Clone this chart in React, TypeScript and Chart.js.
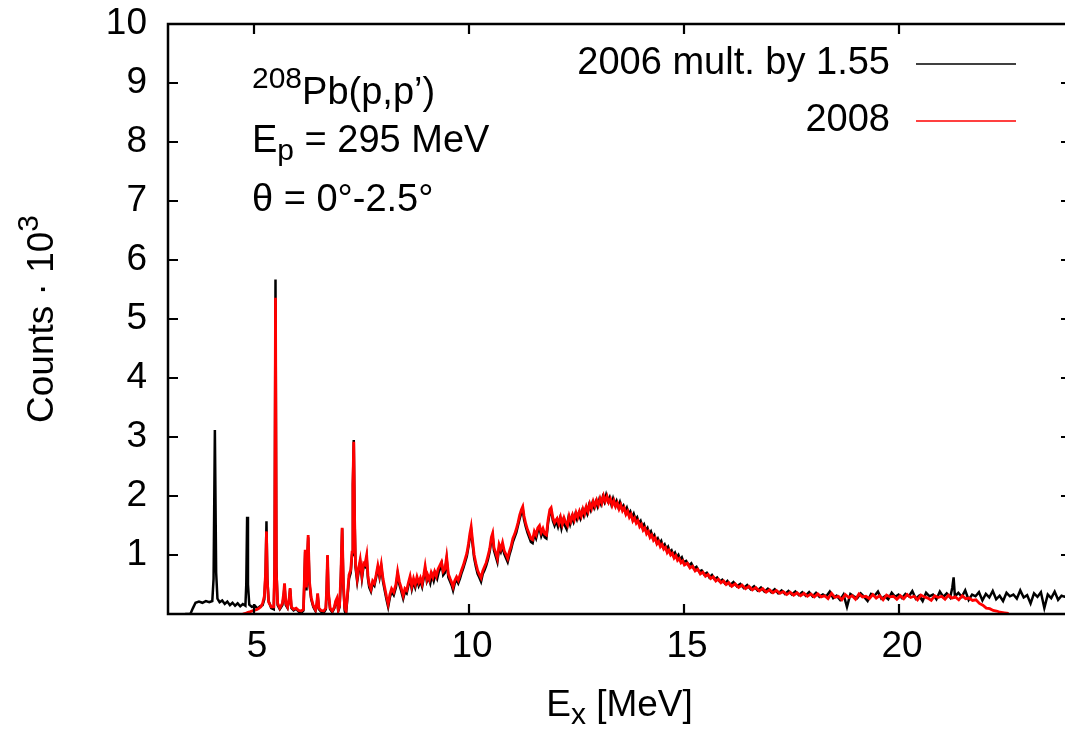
import React, { useEffect, useRef } from "react";
import { Chart, registerables } from "chart.js";

Chart.register(...registerables);

// ---------- data (excitation energy in MeV, counts in units of 10^3) ----------
const ex2006 = [
  3.40, 3.52, 3.58, 3.64, 3.72, 3.80, 3.88, 3.96, 4.03, 4.06, 4.09, 4.12, 4.15, 4.20, 4.26, 4.32,
  4.38, 4.44, 4.50, 4.56, 4.62, 4.68, 4.74, 4.80, 4.82, 4.84, 4.86, 4.89, 4.95, 5.02, 5.08, 5.14, 5.20,
  5.24, 5.27, 5.29, 5.31, 5.34, 5.40, 5.46, 5.48, 5.50, 5.52, 5.55, 5.60, 5.66, 5.69, 5.71, 5.74, 5.78, 5.82, 5.84, 5.87, 5.92, 5.98, 6.04, 6.10, 6.15,
  6.17, 6.19, 6.22, 6.24, 6.26, 6.29, 6.33, 6.38, 6.43, 6.46, 6.48, 6.51, 6.56, 6.62, 6.67, 6.69, 6.71, 6.73, 6.77, 6.82, 6.87, 6.90, 6.93, 6.96, 6.99, 7.02, 7.05, 7.08, 7.11, 7.14,
  7.17, 7.21, 7.25, 7.28, 7.30, 7.32, 7.34, 7.36, 7.40, 7.44, 7.47, 7.51, 7.55, 7.58, 7.62, 7.65, 7.68, 7.72, 7.76, 7.80, 7.84, 7.88, 7.92, 7.96, 8.00,
  8.04, 8.08, 8.12, 8.16, 8.20, 8.25, 8.30, 8.34, 8.38, 8.42, 8.47, 8.51, 8.55, 8.59, 8.63, 8.67, 8.71, 8.75, 8.79, 8.83, 8.87, 8.91, 8.95, 8.98, 9.02,
  9.06, 9.10, 9.14, 9.18, 9.22, 9.26, 9.30, 9.34, 9.37, 9.40, 9.44, 9.48, 9.52, 9.56, 9.60, 9.63, 9.67, 9.71, 9.75, 9.79, 9.83, 9.87, 9.91, 9.95, 9.99,
  10.02, 10.05, 10.08, 10.12, 10.16, 10.20, 10.24, 10.28, 10.32, 10.36, 10.40, 10.44, 10.48, 10.52, 10.55, 10.58, 10.62, 10.66, 10.70, 10.74, 10.78, 10.82, 10.86, 10.90, 10.94, 10.98,
  11.02, 11.06, 11.10, 11.14, 11.18, 11.22, 11.25, 11.28, 11.32, 11.36, 11.40, 11.44, 11.48, 11.52, 11.56, 11.60, 11.64, 11.68, 11.72, 11.76, 11.80, 11.84, 11.88, 11.91, 11.95, 11.99,
  12.03, 12.07, 12.11, 12.15, 12.19, 12.23, 12.27, 12.31, 12.35, 12.39, 12.43, 12.47, 12.51, 12.55, 12.59, 12.63, 12.67, 12.71, 12.75, 12.79, 12.83, 12.87, 12.91, 12.95, 12.99,
  13.03, 13.07, 13.11, 13.15, 13.19, 13.23, 13.27, 13.31, 13.35, 13.39, 13.43, 13.47, 13.51, 13.55, 13.59, 13.63, 13.67, 13.71, 13.75, 13.79, 13.83, 13.87, 13.91, 13.95, 13.99,
  14.03, 14.07, 14.11, 14.15, 14.19, 14.23, 14.27, 14.31, 14.35, 14.39, 14.43, 14.47, 14.51, 14.55, 14.59, 14.63, 14.67, 14.71, 14.75, 14.79, 14.83, 14.87, 14.91, 14.95, 14.99,
  15.05, 15.11, 15.17, 15.23, 15.29, 15.35, 15.41, 15.47, 15.53, 15.59, 15.65, 15.71, 15.77, 15.83, 15.89, 15.95, 16.01,
  16.07, 16.15, 16.23, 16.31, 16.39, 16.47, 16.55, 16.63, 16.71, 16.79, 16.87, 16.95, 17.03, 17.11, 17.19, 17.27, 17.35, 17.43, 17.51, 17.59, 17.67, 17.75, 17.83, 17.91, 17.99,
  18.07, 18.15, 18.23, 18.31, 18.39, 18.47, 18.55, 18.63, 18.71, 18.79, 18.87, 18.95, 19.03, 19.11, 19.19, 19.27, 19.35, 19.43, 19.51, 19.59, 19.67, 19.75, 19.83, 19.91, 19.99,
  20.07, 20.15, 20.23, 20.31, 20.39, 20.47, 20.55, 20.63, 20.71, 20.79, 20.87, 20.95, 21.03, 21.11, 21.19, 21.24, 21.27, 21.30, 21.38, 21.46, 21.54, 21.62, 21.70, 21.78, 21.86, 21.94,
  22.02, 22.10, 22.18, 22.26, 22.34, 22.42, 22.50, 22.58, 22.66, 22.74, 22.82, 22.90, 22.98, 23.06, 23.14, 23.22, 23.30, 23.38, 23.46, 23.54, 23.62, 23.70, 23.78, 23.86, 23.94, 24.00,
];

const counts2006 = [
  0.00, 0.00, 0.10, 0.19, 0.21, 0.19, 0.22, 0.20, 0.22, 0.60, 3.12, 0.70, 0.26, 0.20, 0.23, 0.17,
  0.21, 0.15, 0.19, 0.14, 0.18, 0.13, 0.17, 0.14, 0.50, 1.65, 0.50, 0.16, 0.12, 0.14, 0.09, 0.13, 0.15,
  0.25, 0.70, 1.57, 0.60, 0.22, 0.10, 0.08, 0.80, 5.67, 0.80, 0.15, 0.08, 0.15, 0.30, 0.48, 0.15, 0.10, 0.25, 0.42, 0.10, 0.06, 0.09, 0.04, 0.02, 0.06,
  0.50, 1.05, 0.40, 0.90, 1.30, 0.50, 0.25, 0.12, 0.05, 0.15, 0.33, 0.08, 0.04, 0.02, 0.08, 0.40, 0.98, 0.35, 0.08, 0.03, 0.10, 0.20, 0.24, 0.05, 0.12, 0.60, 1.45, 0.45, 0.05, 0.00,
  0.25, 0.60, 0.70, 1.00, 2.20, 2.95, 1.60, 0.80, 0.55, 0.75, 0.88, 0.60, 0.82, 0.80, 0.95, 0.60, 0.45, 0.38, 0.52, 0.48, 0.62, 0.78, 0.62, 0.80, 0.55,
  0.40, 0.25, 0.12, 0.28, 0.38, 0.32, 0.45, 0.68, 0.50, 0.40, 0.26, 0.38, 0.35, 0.48, 0.60, 0.42, 0.55, 0.45, 0.58, 0.48, 0.56, 0.46, 0.62, 0.76, 0.55,
  0.62, 0.52, 0.66, 0.56, 0.68, 0.60, 0.72, 0.78, 0.84, 0.66, 0.70, 0.93, 0.62, 0.55, 0.48, 0.40, 0.52, 0.58, 0.52, 0.60, 0.70, 0.78, 0.88, 0.98, 1.15,
  1.30, 1.42, 1.20, 0.95, 0.80, 0.68, 0.62, 0.55, 0.68, 0.74, 0.82, 0.92, 1.05, 1.25, 1.32, 1.08, 0.98, 0.88, 1.12, 1.05, 1.15, 1.02, 0.95, 0.88, 1.00, 1.10,
  1.22, 1.30, 1.38, 1.50, 1.62, 1.72, 1.78, 1.60, 1.48, 1.38, 1.30, 1.22, 1.20, 1.35, 1.28, 1.40, 1.45, 1.32, 1.40, 1.30, 1.28, 1.55, 1.72, 1.76, 1.58, 1.50,
  1.58, 1.48, 1.60, 1.45, 1.58, 1.50, 1.44, 1.62, 1.52, 1.64, 1.56, 1.68, 1.60, 1.70, 1.62, 1.74, 1.66, 1.78, 1.70, 1.84, 1.76, 1.88, 1.80, 1.90, 1.82,
  1.94, 1.86, 1.98, 1.90, 2.02, 1.92, 1.98, 1.86, 1.96, 1.86, 1.92, 1.82, 1.90, 1.80, 1.84, 1.74, 1.80, 1.70, 1.74, 1.64, 1.70, 1.60, 1.64, 1.54, 1.58,
  1.48, 1.52, 1.42, 1.46, 1.36, 1.40, 1.30, 1.34, 1.24, 1.28, 1.20, 1.24, 1.14, 1.18, 1.10, 1.14, 1.05, 1.08, 1.00, 1.04, 0.96, 1.00, 0.92, 0.96, 0.88,
  0.90, 0.82, 0.86, 0.77, 0.80, 0.72, 0.74, 0.67, 0.70, 0.62, 0.66, 0.59, 0.62, 0.55, 0.58, 0.52, 0.56,
  0.49, 0.54, 0.47, 0.51, 0.44, 0.49, 0.42, 0.47, 0.40, 0.45, 0.38, 0.43, 0.37, 0.42, 0.35, 0.40, 0.34, 0.39, 0.33, 0.38, 0.32, 0.37, 0.31, 0.37, 0.30,
  0.36, 0.29, 0.33, 0.30, 0.38, 0.27, 0.31, 0.24, 0.33, 0.12, 0.34, 0.30, 0.27, 0.35, 0.29, 0.22, 0.34, 0.31, 0.38, 0.26, 0.30, 0.25, 0.36, 0.29, 0.33,
  0.27, 0.34, 0.30, 0.39, 0.26, 0.31, 0.22, 0.36, 0.30, 0.33, 0.25, 0.38, 0.29, 0.35, 0.28, 0.45, 0.62, 0.30, 0.36, 0.29, 0.40, 0.24, 0.33, 0.30, 0.37, 0.23,
  0.34, 0.28, 0.39, 0.25, 0.31, 0.22, 0.36, 0.30, 0.33, 0.26, 0.40, 0.28, 0.32, 0.18, 0.35, 0.29, 0.37, 0.10, 0.33, 0.27, 0.38, 0.24, 0.31, 0.29, 0.36, 0.27,
];

const ex2008 = [
  4.74, 4.80, 4.86, 4.92, 4.98, 5.04, 5.10, 5.16, 5.20, 5.24, 5.27, 5.29, 5.31, 5.34, 5.40, 5.46, 5.48, 5.50, 5.52, 5.55, 5.60, 5.66, 5.69, 5.71, 5.74, 5.78, 5.82, 5.84, 5.87, 5.92, 5.98, 6.04, 6.10, 6.15,
  6.17, 6.19, 6.22, 6.24, 6.26, 6.29, 6.33, 6.38, 6.43, 6.46, 6.48, 6.51, 6.56, 6.62, 6.67, 6.69, 6.71, 6.73, 6.77, 6.82, 6.87, 6.90, 6.93, 6.96, 6.99, 7.02, 7.05, 7.08, 7.11, 7.14,
  7.17, 7.21, 7.25, 7.28, 7.30, 7.32, 7.34, 7.36, 7.40, 7.44, 7.47, 7.51, 7.55, 7.58, 7.62, 7.65, 7.68, 7.72, 7.76, 7.80, 7.84, 7.88, 7.92, 7.96, 8.00,
  8.04, 8.08, 8.12, 8.16, 8.20, 8.25, 8.30, 8.34, 8.38, 8.42, 8.47, 8.51, 8.55, 8.59, 8.63, 8.67, 8.71, 8.75, 8.79, 8.83, 8.87, 8.91, 8.95, 8.98, 9.02,
  9.04, 9.08, 9.12, 9.16, 9.20, 9.24, 9.28, 9.32, 9.36, 9.40, 9.44, 9.48, 9.52, 9.56, 9.60, 9.63, 9.67, 9.71, 9.75, 9.79, 9.83, 9.87, 9.91, 9.95, 9.99,
  10.02, 10.05, 10.08, 10.12, 10.16, 10.20, 10.24, 10.28, 10.32, 10.36, 10.40, 10.44, 10.48, 10.52, 10.55, 10.58, 10.62, 10.66, 10.70, 10.74, 10.78, 10.82, 10.86, 10.90, 10.94, 10.98,
  11.02, 11.06, 11.10, 11.14, 11.18, 11.22, 11.25, 11.28, 11.32, 11.36, 11.40, 11.44, 11.48, 11.52, 11.56, 11.60, 11.64, 11.68, 11.72, 11.76, 11.80, 11.84, 11.88, 11.91, 11.95, 11.99,
  12.05, 12.09, 12.13, 12.17, 12.21, 12.25, 12.29, 12.33, 12.37, 12.41, 12.45, 12.49, 12.53, 12.57, 12.61, 12.65, 12.69, 12.73, 12.77, 12.81, 12.85, 12.89, 12.93, 12.97, 13.01,
  13.05, 13.09, 13.13, 13.17, 13.21, 13.25, 13.29, 13.33, 13.37, 13.41, 13.45, 13.49, 13.53, 13.57, 13.61, 13.65, 13.69, 13.73, 13.77, 13.81, 13.85, 13.89, 13.93, 13.97, 14.01,
  14.05, 14.09, 14.13, 14.17, 14.21, 14.25, 14.29, 14.33, 14.37, 14.41, 14.45, 14.49, 14.53, 14.57, 14.61, 14.65, 14.69, 14.73, 14.77, 14.81, 14.85, 14.89, 14.93, 14.97, 15.01,
  15.08, 15.14, 15.20, 15.26, 15.32, 15.38, 15.44, 15.50, 15.56, 15.62, 15.68, 15.74, 15.80, 15.86, 15.92, 15.98, 16.04,
  16.11, 16.19, 16.27, 16.35, 16.43, 16.51, 16.59, 16.67, 16.75, 16.83, 16.91, 16.99, 17.07, 17.15, 17.23, 17.31, 17.39, 17.47, 17.55, 17.63, 17.71, 17.79, 17.87, 17.95, 18.03,
  18.11, 18.19, 18.27, 18.35, 18.43, 18.51, 18.59, 18.67, 18.75, 18.83, 18.91, 18.99, 19.07, 19.15, 19.23, 19.31, 19.39, 19.47, 19.55, 19.63, 19.71, 19.79, 19.87, 19.95, 20.03,
  20.11, 20.19, 20.27, 20.35, 20.43, 20.51, 20.59, 20.67, 20.75, 20.83, 20.91, 20.99, 21.07, 21.15, 21.23, 21.31, 21.39, 21.47, 21.55, 21.63, 21.71, 21.79, 21.87, 21.95, 22.03, 22.11, 22.19, 22.27, 22.35, 22.45, 22.55,
];

const counts2008 = [
  0.00, 0.01, 0.03, 0.04, 0.06, 0.07, 0.09, 0.12, 0.18, 0.30, 0.70, 1.40, 0.55, 0.20, 0.12, 0.12, 0.80, 5.36, 0.70, 0.18, 0.10, 0.18, 0.35, 0.52, 0.18, 0.12, 0.28, 0.44, 0.12, 0.08, 0.10, 0.06, 0.05, 0.08,
  0.55, 1.09, 0.45, 0.95, 1.34, 0.55, 0.28, 0.14, 0.07, 0.18, 0.35, 0.10, 0.06, 0.05, 0.10, 0.42, 1.00, 0.38, 0.10, 0.05, 0.12, 0.22, 0.27, 0.07, 0.15, 0.65, 1.46, 0.50, 0.10, 0.05,
  0.30, 0.66, 0.75, 1.05, 2.20, 2.92, 1.60, 0.85, 0.60, 0.80, 0.92, 0.65, 0.86, 0.84, 1.00, 0.65, 0.50, 0.42, 0.56, 0.52, 0.66, 0.82, 0.66, 0.84, 0.60,
  0.45, 0.30, 0.17, 0.33, 0.43, 0.37, 0.50, 0.72, 0.55, 0.45, 0.31, 0.43, 0.40, 0.53, 0.64, 0.47, 0.60, 0.50, 0.63, 0.53, 0.61, 0.51, 0.67, 0.81, 0.60,
  0.66, 0.58, 0.70, 0.62, 0.72, 0.64, 0.76, 0.82, 0.88, 0.72, 0.76, 0.97, 0.68, 0.60, 0.53, 0.46, 0.57, 0.63, 0.57, 0.66, 0.75, 0.83, 0.93, 1.03, 1.20,
  1.36, 1.48, 1.26, 1.00, 0.86, 0.74, 0.67, 0.61, 0.73, 0.80, 0.87, 0.98, 1.10, 1.30, 1.37, 1.13, 1.04, 0.94, 1.18, 1.10, 1.21, 1.07, 1.01, 0.94, 1.06, 1.15,
  1.28, 1.35, 1.44, 1.55, 1.68, 1.77, 1.82, 1.66, 1.53, 1.43, 1.36, 1.28, 1.26, 1.40, 1.34, 1.46, 1.50, 1.38, 1.45, 1.36, 1.34, 1.60, 1.77, 1.80, 1.63, 1.55,
  1.62, 1.53, 1.64, 1.52, 1.63, 1.55, 1.50, 1.66, 1.57, 1.68, 1.60, 1.72, 1.64, 1.74, 1.66, 1.78, 1.70, 1.82, 1.74, 1.87, 1.79, 1.91, 1.83, 1.93, 1.85,
  1.96, 1.88, 2.00, 1.91, 1.99, 1.89, 1.95, 1.84, 1.92, 1.82, 1.88, 1.78, 1.85, 1.75, 1.80, 1.69, 1.74, 1.64, 1.69, 1.58, 1.63, 1.54, 1.58, 1.48, 1.52,
  1.42, 1.46, 1.36, 1.40, 1.30, 1.34, 1.25, 1.29, 1.19, 1.23, 1.14, 1.18, 1.10, 1.13, 1.04, 1.08, 1.00, 1.03, 0.95, 0.99, 0.91, 0.94, 0.87, 0.90, 0.83,
  0.86, 0.78, 0.81, 0.73, 0.76, 0.68, 0.71, 0.64, 0.67, 0.60, 0.63, 0.56, 0.59, 0.53, 0.56, 0.50, 0.53,
  0.47, 0.51, 0.45, 0.49, 0.43, 0.47, 0.41, 0.45, 0.39, 0.43, 0.37, 0.41, 0.36, 0.40, 0.35, 0.38, 0.33, 0.37, 0.32, 0.36, 0.31, 0.35, 0.30, 0.34, 0.29,
  0.34, 0.29, 0.31, 0.26, 0.35, 0.28, 0.30, 0.24, 0.33, 0.28, 0.31, 0.25, 0.34, 0.29, 0.30, 0.26, 0.33, 0.27, 0.31, 0.24, 0.32, 0.29, 0.30, 0.25, 0.31,
  0.26, 0.33, 0.28, 0.30, 0.24, 0.32, 0.29, 0.27, 0.23, 0.31, 0.28, 0.30, 0.25, 0.32, 0.27, 0.29, 0.24, 0.31, 0.26, 0.27, 0.23, 0.24, 0.18, 0.15, 0.10, 0.09, 0.06, 0.05, 0.03, 0.02, 0.01,
];

const xTickValues = [5, 10, 15, 20];
const yTickValues = [1, 2, 3, 4, 5, 6, 7, 8, 9, 10];
const legendLabels = ["2006 mult. by 1.55", "2008"];
const seriesColors = ["#000000", "#ff0000"];

const FONT = '"Liberation Sans", Arial, Helvetica, sans-serif';
const FS = 37; // ticks and axis titles
const FT = 38; // annotation and legend text
const SUB = 30;

type Part = { t: string; s: number; dy?: number };

function drawParts(ctx: CanvasRenderingContext2D, parts: Part[], x: number, y: number) {
  let cx = x;
  for (const p of parts) {
    ctx.font = `${p.s}px ${FONT}`;
    ctx.fillText(p.t, cx, y + (p.dy || 0));
    cx += ctx.measureText(p.t).width;
  }
}

function partsWidth(ctx: CanvasRenderingContext2D, parts: Part[]) {
  let w = 0;
  for (const p of parts) {
    ctx.font = `${p.s}px ${FONT}`;
    w += ctx.measureText(p.t).width;
  }
  return w;
}

const framePlugin = {
  id: "gnuFrame",
  afterDraw(chart: any) {
    const { ctx, chartArea: a, scales } = chart;
    ctx.save();
    ctx.strokeStyle = "#000";
    ctx.lineWidth = 2.5;
    ctx.strokeRect(a.left, a.top, a.right - a.left, a.bottom - a.top);
    const tl = 10;
    ctx.lineWidth = 2.2;
    ctx.beginPath();
    for (const v of xTickValues) {
      const px = scales.x.getPixelForValue(v);
      ctx.moveTo(px, a.bottom);
      ctx.lineTo(px, a.bottom - tl);
      ctx.moveTo(px, a.top);
      ctx.lineTo(px, a.top + tl);
    }
    for (const v of yTickValues) {
      const py = scales.y.getPixelForValue(v);
      ctx.moveTo(a.left, py);
      ctx.lineTo(a.left + tl, py);
      ctx.moveTo(a.right, py);
      ctx.lineTo(a.right - tl, py);
    }
    ctx.stroke();

    ctx.fillStyle = "#000";
    ctx.textBaseline = "alphabetic";
    ctx.textAlign = "left";

    // annotation block
    const ax = 252;
    drawParts(ctx, [{ t: "208", s: SUB, dy: -16 }, { t: "Pb(p,p\u2019)", s: FT }], ax, 104);
    drawParts(ctx, [{ t: "E", s: FT }, { t: "p", s: SUB, dy: 8 }, { t: " = 295 MeV", s: FT }], ax, 152);
    drawParts(ctx, [{ t: "\u03b8 = 0\u00b0-2.5\u00b0", s: FT }], ax, 211);

    // legend
    const legendRight = 890;
    const rows = [64, 121];
    ctx.textAlign = "right";
    ctx.textBaseline = "middle";
    ctx.font = `${FT}px ${FONT}`;
    rows.forEach((ry, i) => {
      ctx.fillStyle = "#000";
      ctx.fillText(legendLabels[i], legendRight, ry);
      ctx.strokeStyle = seriesColors[i];
      ctx.lineWidth = 1.5;
      ctx.beginPath();
      ctx.moveTo(916, ry);
      ctx.lineTo(1016, ry);
      ctx.stroke();
    });

    // x axis title
    ctx.textAlign = "left";
    ctx.textBaseline = "alphabetic";
    ctx.fillStyle = "#000";
    const xt: Part[] = [{ t: "E", s: FS }, { t: "x", s: SUB, dy: 8 }, { t: " [MeV]", s: FS }];
    const cx = (a.left + a.right) / 2;
    drawParts(ctx, xt, cx - partsWidth(ctx, xt) / 2, 716);

    // y axis title (rotated)
    const yt: Part[] = [{ t: "Counts \u00b7 10", s: FS }, { t: "3", s: SUB, dy: -15 }];
    ctx.translate(53, (a.top + a.bottom) / 2);
    ctx.rotate(-Math.PI / 2);
    drawParts(ctx, yt, -partsWidth(ctx, yt) / 2, 0);
    ctx.restore();
  },
};

export default function App() {
  const canvasRef = useRef<HTMLCanvasElement | null>(null);

  useEffect(() => {
    const canvas = canvasRef.current;
    if (!canvas) return;
    const chart = new Chart(canvas, {
      type: "line",
      data: {
        datasets: [
          {
            label: legendLabels[1],
            data: ex2008.map((x, i) => ({ x, y: counts2008[i] })),
            borderColor: seriesColors[1],
            borderWidth: 2.8,
            pointRadius: 0,
            tension: 0,
            order: 1,
          },
          {
            label: legendLabels[0],
            data: ex2006.map((x, i) => ({ x, y: counts2006[i] })),
            borderColor: seriesColors[0],
            borderWidth: 2.5,
            pointRadius: 0,
            tension: 0,
            order: 2,
          },
        ],
      },
      options: {
        animation: false,
        responsive: false,
        devicePixelRatio: 1,
        layout: { padding: { left: 0, right: 9, top: 24, bottom: 0 } },
        plugins: { legend: { display: false }, tooltip: { enabled: false } },
        scales: {
          x: {
            type: "linear",
            min: 3,
            max: 24,
            afterBuildTicks: (s: any) => {
              s.ticks = xTickValues.map((v) => ({ value: v }));
            },
            afterFit: (s: any) => {
              s.height = 119;
              s.paddingLeft = 0;
              s.paddingRight = 0;
            },
            grid: { display: false, drawTicks: false },
            border: { display: false },
            ticks: {
              color: "#000",
              font: { family: FONT, size: FS },
              padding: 11,
              labelOffset: 3,
              maxRotation: 0,
              autoSkip: false,
            },
          },
          y: {
            type: "linear",
            min: 0,
            max: 10,
            afterBuildTicks: (s: any) => {
              s.ticks = yTickValues.map((v) => ({ value: v }));
            },
            afterFit: (s: any) => {
              s.width = 168;
              s.paddingTop = 0;
              s.paddingBottom = 0;
            },
            grid: { display: false, drawTicks: false },
            border: { display: false },
            ticks: {
              color: "#000",
              font: { family: FONT, size: FS },
              padding: 21,
              autoSkip: false,
            },
          },
        },
      },
      plugins: [framePlugin],
    } as any);
    return () => chart.destroy();
  }, []);

  return (
    <div
      style={{
        position: "fixed",
        left: 0,
        top: 0,
        width: 1065,
        height: 733,
        overflow: "hidden",
        background: "#fff",
      }}
    >
      <canvas ref={canvasRef} width={1080} height={733} style={{ display: "block" }} />
    </div>
  );
}
